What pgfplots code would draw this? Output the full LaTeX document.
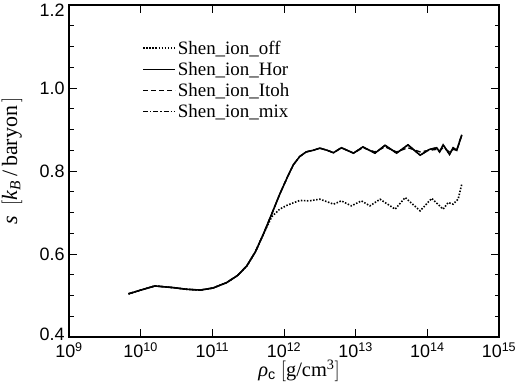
\documentclass[border=0pt]{standalone}
\usepackage{fontspec}
\setmainfont{Liberation Serif}
\newfontfamily\ticksans{Liberation Sans}
\usepackage{pgfplots}
\pgfplotsset{compat=1.18}
\begin{document}
\begin{tikzpicture}
\begin{axis}[
  name=ax,
  scale only axis, width=430bp, height=332bp,
  xmode=log, xmin=1e9, xmax=1e15, ymin=0.4, ymax=1.2,
  log basis x=10,
  xtick={1e9,1e10,1e11,1e12,1e13,1e14,1e15},
  xticklabels={10\textsuperscript{9},10\textsuperscript{10},10\textsuperscript{11},10\textsuperscript{12},10\textsuperscript{13},10\textsuperscript{14},10\textsuperscript{15}},
  ytick={0.4,0.6,0.8,1.0,1.2},
  yticklabels={\raisebox{3bp}[12.9bp][0pt]{0.4},0.6,0.8,1.0,\raisebox{-5bp}[12.9bp][0pt]{1.2}},
  minor y tick num=3,
  tick align=inside, tick pos=both,
  major tick length=8bp, minor tick length=4.5bp,
  every tick/.style={black, line width=0.9pt},
  axis line style={line width=1.1pt},
  tick label style={font=\ticksans\fontsize{18}{18}\selectfont},
  xticklabel style={yshift=-2bp},
  yticklabel style={xshift=-1bp},
  xlabel={\textit{ρ}\textsubscript{\ticksans c} $\Big[$g/cm\textsuperscript{3}$\Big]$},
  ylabel={\textit{s}\ \ $\Big[$\textit{k}\textsubscript{\textit{B}}\,/\,baryon\,$\Big]$},
  xlabel style={font=\fontsize{20.5}{20.5}\selectfont, at={(ticklabel* cs:0.535,34bp)}, anchor=center},
  ylabel style={font=\fontsize{22}{22}\selectfont, at={(ticklabel* cs:0.53,57bp)}, anchor=center},
  legend cell align=left,
  legend style={draw=none, fill=none, at={(0.163,0.905)}, anchor=north west,
    font=\fontsize{19}{19}\selectfont, row sep=2.5bp,
    legend image code/.code={\draw[#1] (0bp,0bp) -- (32bp,0bp);}},
]
\addplot[black, line width=1.6pt, dash pattern=on 1.5pt off 1.6pt] coordinates {
(6.76e9,0.504) (1.0e10,0.513) (1.58e10,0.523) (2.82e10,0.519) (4.37e10,0.515) (6.76e10,0.513)
(1.02e11,0.518) (1.58e11,0.531) (2.24e11,0.548) (3.02e11,0.571) (3.98e11,0.605) (5.13e11,0.647)
(6.76e11,0.690) (8.71e11,0.708) (1.12e12,0.718) (1.66e12,0.729) (2.24e12,0.728) (3.16e12,0.732)
(3.98e12,0.726) (4.90e12,0.720) (6.31e12,0.728) (8.71e12,0.716) (1.20e13,0.728) (1.58e13,0.716)
(2.19e13,0.732) (3.55e13,0.708) (4.90e13,0.736) (7.94e13,0.704) (1.15e14,0.734) (1.66e14,0.708)
(1.95e14,0.724) (2.29e14,0.720) (2.69e14,0.732) (3.02e14,0.768)
};
\addlegendentry{Shen\_ion\_off}
\addplot[black, line width=1.6pt] coordinates {
(6.76e9,0.504) (1.0e10,0.513) (1.58e10,0.523) (2.82e10,0.519) (4.37e10,0.515) (6.76e10,0.513)
(1.02e11,0.518) (1.58e11,0.531) (2.24e11,0.548) (3.02e11,0.571) (3.98e11,0.605) (5.13e11,0.647)
(6.76e11,0.697) (8.71e11,0.744) (1.12e12,0.786) (1.35e12,0.815) (1.66e12,0.835) (2.04e12,0.846)
(2.57e12,0.850) (3.16e12,0.855) (3.98e12,0.850) (4.90e12,0.844) (6.31e12,0.856) (9.33e12,0.843)
(1.26e13,0.858) (1.86e13,0.843) (2.57e13,0.862) (3.72e13,0.843) (5.37e13,0.863) (7.94e13,0.838)
(1.07e14,0.852) (1.35e14,0.856) (1.48e14,0.846) (1.66e14,0.863) (2.04e14,0.840) (2.29e14,0.856)
(2.57e14,0.850) (3.02e14,0.887)
};
\addlegendentry{Shen\_ion\_Hor}
\addplot[black, line width=1.3pt, dash pattern=on 5bp off 3bp] coordinates {
(6.76e9,0.504) (1.0e10,0.513) (1.58e10,0.523) (2.82e10,0.519) (4.37e10,0.515) (6.76e10,0.513)
(1.02e11,0.518) (1.58e11,0.531) (2.24e11,0.548) (3.02e11,0.571) (3.98e11,0.605) (5.13e11,0.647)
(6.76e11,0.697) (8.71e11,0.744) (1.12e12,0.786) (1.35e12,0.815) (1.66e12,0.835) (2.04e12,0.846)
(2.57e12,0.850) (3.16e12,0.855) (3.98e12,0.850) (4.90e12,0.844) (6.31e12,0.856) (9.33e12,0.843)
(1.26e13,0.856) (1.86e13,0.846) (2.57e13,0.858) (3.72e13,0.846) (5.37e13,0.856) (7.94e13,0.846)
(1.07e14,0.850) (1.35e14,0.852) (1.48e14,0.848) (1.66e14,0.856) (2.04e14,0.846) (2.29e14,0.852)
(2.57e14,0.850) (3.02e14,0.885)
};
\addlegendentry{Shen\_ion\_Itoh}
\addplot[black, line width=1.3pt, dash pattern=on 5bp off 2bp on 1.3bp off 2bp] coordinates {
(6.76e9,0.504) (1.0e10,0.513) (1.58e10,0.523) (2.82e10,0.519) (4.37e10,0.515) (6.76e10,0.513)
(1.02e11,0.518) (1.58e11,0.531) (2.24e11,0.548) (3.02e11,0.571) (3.98e11,0.605) (5.13e11,0.647)
(6.76e11,0.697) (8.71e11,0.744) (1.12e12,0.786) (1.35e12,0.815) (1.66e12,0.835) (2.04e12,0.846)
(2.57e12,0.850) (3.16e12,0.855) (3.98e12,0.850) (4.90e12,0.844) (6.31e12,0.856) (9.33e12,0.843)
(1.26e13,0.858) (1.86e13,0.843) (2.57e13,0.862) (3.72e13,0.843) (5.37e13,0.863) (7.94e13,0.838)
(1.07e14,0.852) (1.35e14,0.856) (1.48e14,0.846) (1.66e14,0.863) (2.04e14,0.840) (2.29e14,0.856)
(2.57e14,0.850) (3.02e14,0.887)
};
\addlegendentry{Shen\_ion\_mix}
\end{axis}
\path (ax.south west)+(-69bp,-53bp) coordinate (bl);
\path (ax.north east)+(16bp,5bp) coordinate (tr);
\pgfresetboundingbox
\path[use as bounding box] (bl) rectangle (tr);
\end{tikzpicture}
\end{document}
